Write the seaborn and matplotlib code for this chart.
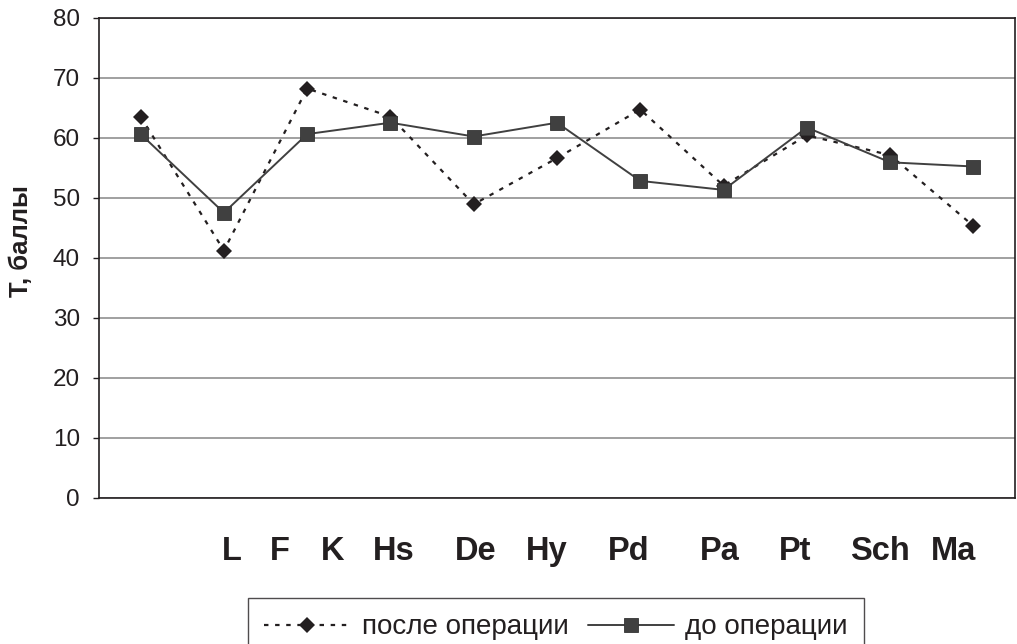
import numpy as np
import pandas as pd
import matplotlib
matplotlib.use("Agg")
import matplotlib.pyplot as plt
import seaborn as sns

# ---- data ----
after_op = [63.5, 41.2, 68.2, 63.5, 48.9, 56.6, 64.7, 52.0, 60.4, 57.1, 45.3]
before_op = [60.6, 47.5, 60.6, 62.5, 60.2, 62.5, 52.8, 51.3, 61.7, 55.9, 55.2]
scale_labels = ["L", "F", "K", "Hs", "De", "Hy", "Pd", "Pa", "Pt", "Sch", "Ma"]
label_pos = [1.09, 1.67, 2.30, 3.04, 4.02, 4.88, 5.86, 6.95, 7.86, 8.88, 9.76]
y_ticks = [0, 10, 20, 30, 40, 50, 60, 70, 80]
series_after = "после операции"
series_before = "до операции"
y_title = "Т, баллы"

sns.set_theme(style="white")
plt.rcParams["font.family"] = ["Liberation Sans", "DejaVu Sans"]

W, H = 1017, 644
fig = plt.figure(figsize=(W / 100, H / 100), dpi=100)
ax = fig.add_axes([99 / W, 1 - 497.7 / H, (1015 - 99) / W, 480 / H])

df = pd.DataFrame({"pos": np.arange(len(after_op)), "after": after_op, "before": before_op})

sns.lineplot(data=df, x="pos", y="after", ax=ax, color="#231f20", linewidth=1.6,
             linestyle=(0, (2.0, 3.0)), marker="D", markersize=8.6,
             markeredgewidth=0, markerfacecolor="#231f20", label=series_after, zorder=3)
sns.lineplot(data=df, x="pos", y="before", ax=ax, color="#404040", linewidth=1.4,
             linestyle="-", marker="s", markersize=9.4, markeredgewidth=0.6,
             markeredgecolor="#333333", markerfacecolor="#404040", label=series_before, zorder=4)

ax.set_xlim(-0.5, 10.5)
ax.set_ylim(0, 80)
ax.set_yticks(y_ticks)
ax.set_yticklabels([str(v) for v in y_ticks])
ax.set_xticks(label_pos)
ax.set_xticklabels(scale_labels)
ax.set_xlabel("")
ax.set_ylabel(y_title, fontsize=18.5, fontweight="bold", color="#231f20")
ax.yaxis.set_label_coords(-0.0725, 0.535)

ax.grid(axis="y", color="#868686", linewidth=1.1)
ax.grid(axis="x", visible=False)
ax.set_axisbelow(True)
for s in ax.spines.values():
    s.set_color("#231f20")
    s.set_linewidth(1.2)
    s.set_visible(True)

ax.tick_params(axis="y", which="major", left=True, length=6 * 0.72, width=1.0,
               color="#231f20", pad=9.4, labelsize=17.5, labelcolor="#231f20")
ax.tick_params(axis="x", which="major", bottom=False, length=0, pad=27.5,
               labelsize=23.5, labelcolor="#231f20")
for lbl in ax.get_xticklabels():
    lbl.set_fontweight("bold")

handles, labels = ax.get_legend_handles_labels()
if ax.get_legend() is not None:
    ax.get_legend().remove()
leg = fig.legend(handles, labels, loc="upper center", bbox_to_anchor=(556 / W, 1 - 597.7 / H),
                 ncol=2, frameon=True, fancybox=False, fontsize=20, borderaxespad=0,
                 handlelength=3.1, handletextpad=0.4, columnspacing=0.7, borderpad=0.6)
leg.get_frame().set_edgecolor("#231f20")
leg.get_frame().set_linewidth(1.0)
for t in leg.get_texts():
    t.set_color("#231f20")

fig.savefig("out.png", dpi=100)
